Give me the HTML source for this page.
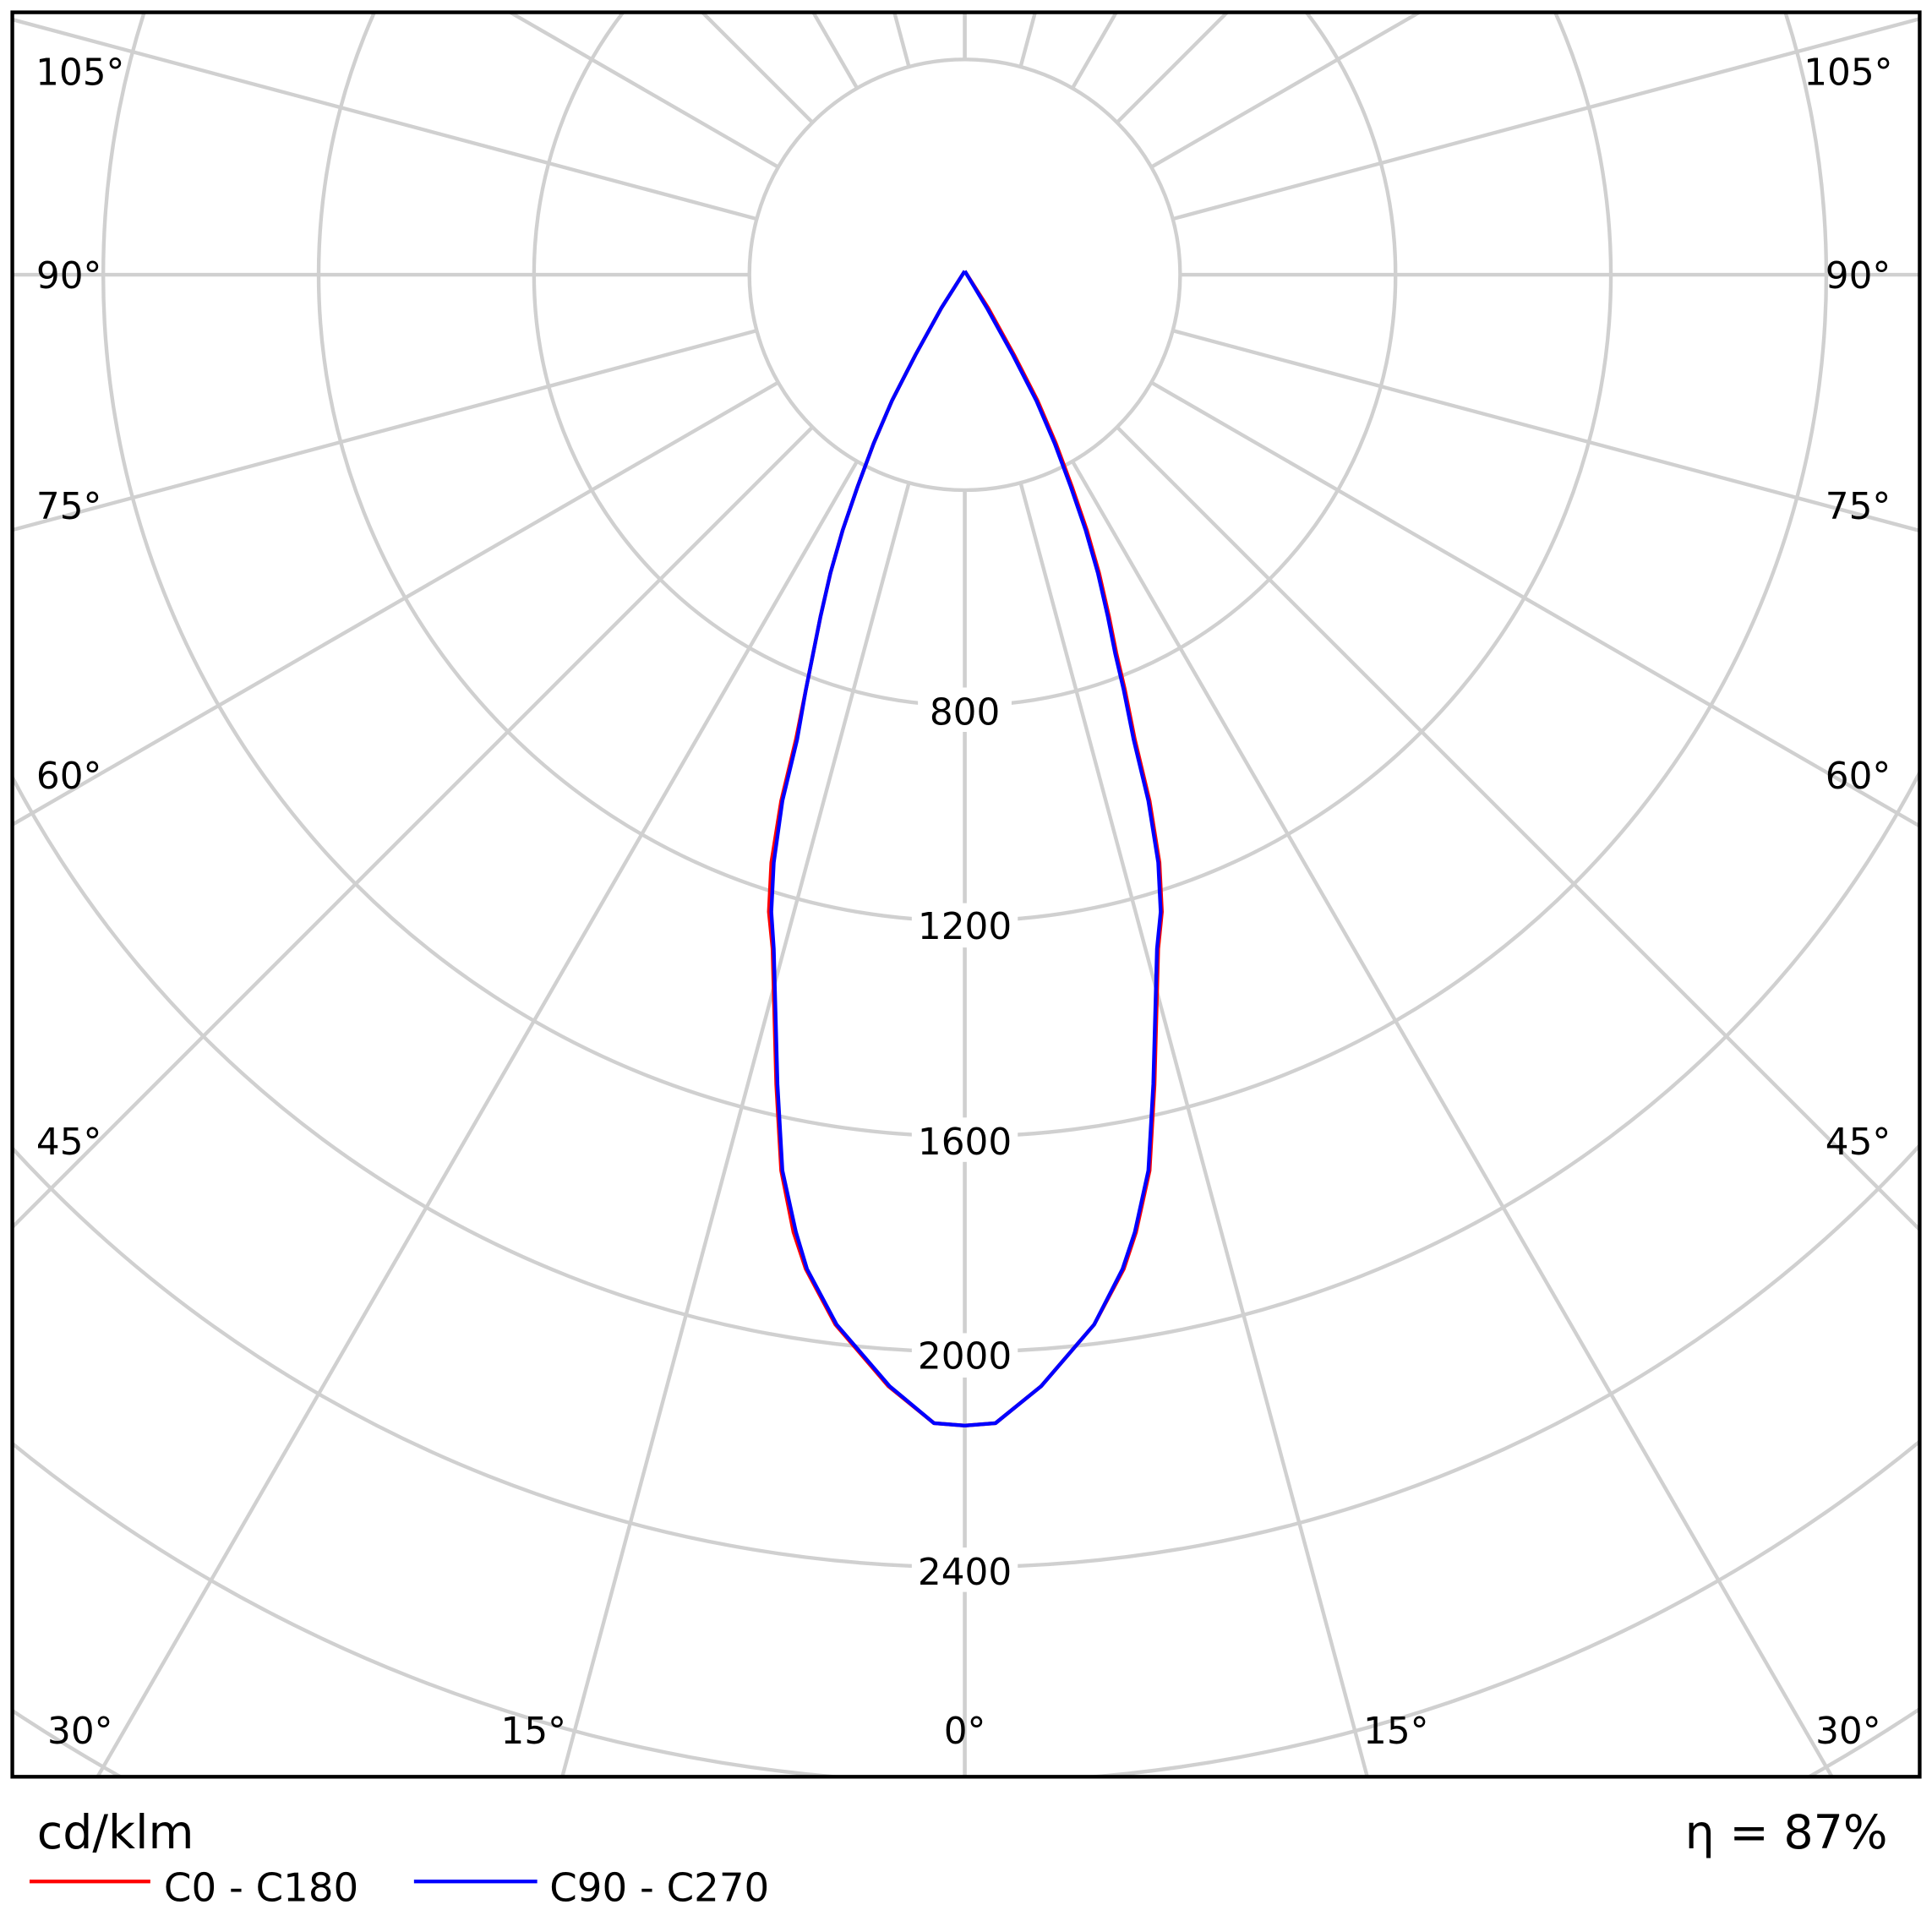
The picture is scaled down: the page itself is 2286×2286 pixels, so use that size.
<!DOCTYPE html>
<html><head><meta charset="utf-8"><style>
html,body{margin:0;padding:0;background:#fff;overflow:hidden;width:2286px;height:2286px;}
svg{display:block;}
text{font-family:"DejaVu Sans","Liberation Sans",sans-serif;fill:#000;}
</style></head><body>
<svg width="2286" height="2286" viewBox="0 0 1568 1568" xmlns="http://www.w3.org/2000/svg">
<defs><clipPath id="c"><rect x="10" y="10" width="1548" height="1432"/></clipPath></defs>
<rect width="1568" height="1568" fill="#fff"/>
<g clip-path="url(#c)" stroke="#d0d0d0" stroke-width="3" fill="none">
<circle cx="783" cy="223" r="174.8"/>
<circle cx="783" cy="223" r="349.6"/>
<circle cx="783" cy="223" r="524.4"/>
<circle cx="783" cy="223" r="699.2"/>
<circle cx="783" cy="223" r="874"/>
<circle cx="783" cy="223" r="1048.8"/>
<circle cx="783" cy="223" r="1223.6"/>
<circle cx="783" cy="223" r="1398.4"/>
<circle cx="783" cy="223" r="1573.2"/>
<g id="rays">
<line x1="783" y1="398" x2="783" y2="2223"/>
<line x1="828.3" y1="391.8" x2="1300.6" y2="2154.8"/>
<line x1="870.4" y1="374.4" x2="1783" y2="1955"/>
<line x1="906.6" y1="346.6" x2="2197" y2="1637"/>
<line x1="934.4" y1="310.4" x2="2515" y2="1223"/>
<line x1="951.8" y1="268.3" x2="2714.8" y2="740.6"/>
<line x1="958" y1="223" x2="2783" y2="223"/>
<line x1="951.8" y1="177.7" x2="2714.8" y2="-294.6"/>
<line x1="934.4" y1="135.6" x2="2515" y2="-777"/>
<line x1="906.6" y1="99.4" x2="2197" y2="-1191"/>
<line x1="870.4" y1="71.6" x2="1783" y2="-1509"/>
<line x1="828.3" y1="54.2" x2="1300.6" y2="-1708.8"/>
<line x1="783" y1="48" x2="783" y2="-1777"/>
</g>
<use href="#rays" transform="translate(1566,0) scale(-1,1)"/>
</g>
<g font-size="30" text-anchor="middle">
<g fill="#fff">
<rect x="745" y="558" width="76" height="36"/>
<rect x="740" y="733" width="86" height="36"/>
<rect x="740" y="907" width="86" height="36"/>
<rect x="740" y="1082" width="86" height="36"/>
<rect x="740" y="1256" width="86" height="36"/>
</g>
<text x="783" y="588">800</text>
<text x="783" y="762">1200</text>
<text x="783" y="937">1600</text>
<text x="783" y="1111">2000</text>
<text x="783" y="1286">2400</text>
<text x="65" y="69">105°</text><text x="1500" y="69">105°</text>
<text x="56" y="234">90°</text><text x="1508" y="234">90°</text>
<text x="56" y="421">75°</text><text x="1508" y="421">75°</text>
<text x="56" y="640">60°</text><text x="1508" y="640">60°</text>
<text x="56" y="937">45°</text><text x="1508" y="937">45°</text>
<text x="65" y="1415">30°</text><text x="1500" y="1415">30°</text>
<text x="433" y="1415">15°</text><text x="1133" y="1415">15°</text>
<text x="783" y="1415">0°</text>
</g>
<g fill="none" stroke-width="3" stroke-linejoin="round">
<polyline stroke="#ff0000" points="783,220 764,250 743,288 724,325 709,360 696,395 684,430 674,465 666,500 660,530 654,560 646,600 634,650 626,700 624,740 627,770 630,880 634,950 644,1000 654,1030 678,1075 721,1125 758,1155 783,1157 808,1155 845,1125 888,1075 912,1030 922,1000 933,950 937,880 940,770 943,740 941,700 933,650 921,600 913,560 906,530 900,500 892,465 882,430 870,395 857,360 842,325 823,288 802,250 783,220"/>
<polyline stroke="#0000ff" points="783,220 764,250 743,288 724,325 709,360 696,395 684,430 674,465 666,500 660,530 654,560 647,600 635,650 628,700 626,740 628,770 631,880 635,950 646,1000 655,1030 679,1075 722,1125 758,1155 783,1157 808,1155 845,1125 888,1075 911,1030 921,1000 932,950 936,880 939,770 942,740 940,700 932,650 920,600 912,560 905,530 899,500 891,465 881,430 869,395 856,360 841,325 822,288 801,250 783,220"/>
</g>
<rect x="10" y="10" width="1548" height="1432" fill="none" stroke="#000" stroke-width="3"/>
<text x="30" y="1500" font-size="38">cd/klm</text>
<text x="1532" y="1500" font-size="38" text-anchor="end">η = 87%</text>
<line x1="24" y1="1527" x2="122" y2="1527" stroke="#ff0000" stroke-width="3"/>
<text x="133" y="1543" font-size="32">C0 - C180</text>
<line x1="336" y1="1527" x2="436" y2="1527" stroke="#0000ff" stroke-width="3"/>
<text x="446" y="1543" font-size="32">C90 - C270</text>
</svg>
</body></html>
